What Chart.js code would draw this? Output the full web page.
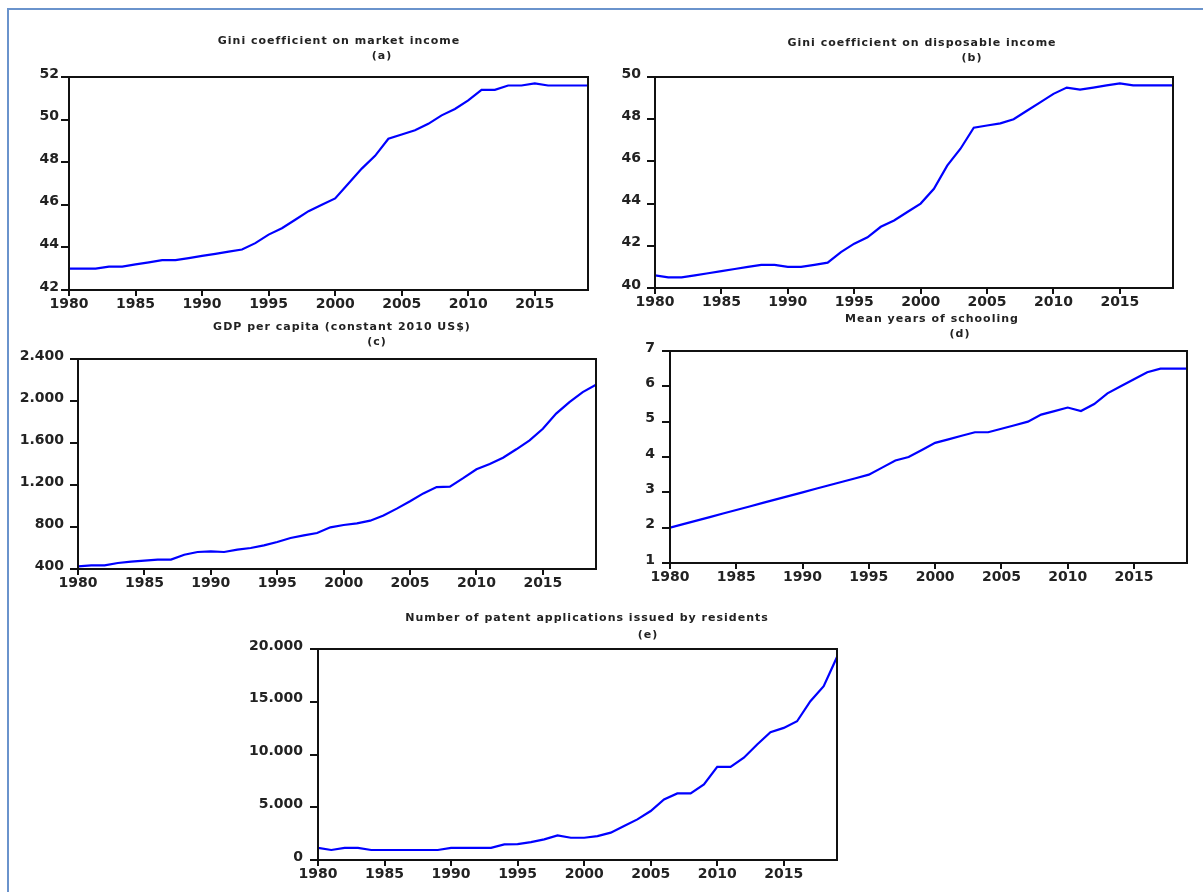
<!DOCTYPE html>
<html>
<head>
<meta charset="utf-8">
<script src="https://cdn.jsdelivr.net/npm/chart.js@4"></script>
<style>
  html, body { margin: 0; padding: 0; background: #fff; }
  body { width: 1203px; height: 892px; position: relative; overflow: hidden; }
  .frame-top { position: absolute; left: 7px; top: 8px; width: 1196px; height: 2px; background: #6a93cc; }
  .frame-left { position: absolute; left: 7px; top: 8px; width: 2px; height: 884px; background: #6a93cc; }
  canvas { position: absolute; }
</style>
</head>
<body>
<div class="frame-top"></div>
<div class="frame-left"></div>
<canvas id="chartA"></canvas>
<canvas id="chartB"></canvas>
<canvas id="chartC"></canvas>
<canvas id="chartD"></canvas>
<canvas id="chartE"></canvas>

<script>
// Yearly observations, 1980 - 2019.
const years = [
  1980, 1981, 1982, 1983, 1984, 1985, 1986, 1987, 1988, 1989,
  1990, 1991, 1992, 1993, 1994, 1995, 1996, 1997, 1998, 1999,
  2000, 2001, 2002, 2003, 2004, 2005, 2006, 2007, 2008, 2009,
  2010, 2011, 2012, 2013, 2014, 2015, 2016, 2017, 2018, 2019
];

const giniMarket = [
  43.0, 43.0, 43.0, 43.1, 43.1, 43.2, 43.3, 43.4, 43.4, 43.5,
  43.6, 43.7, 43.8, 43.9, 44.2, 44.6, 44.9, 45.3, 45.7, 46.0,
  46.3, 47.0, 47.7, 48.3, 49.1, 49.3, 49.5, 49.8, 50.2, 50.5,
  50.9, 51.4, 51.4, 51.6, 51.6, 51.7, 51.6, 51.6, 51.6, 51.6
];

const giniDisposable = [
  40.6, 40.5, 40.5, 40.6, 40.7, 40.8, 40.9, 41.0, 41.1, 41.1,
  41.0, 41.0, 41.1, 41.2, 41.7, 42.1, 42.4, 42.9, 43.2, 43.6,
  44.0, 44.7, 45.8, 46.6, 47.6, 47.7, 47.8, 48.0, 48.4, 48.8,
  49.2, 49.5, 49.4, 49.5, 49.6, 49.7, 49.6, 49.6, 49.6, 49.6
];

const gdpPerCapita = [
  425, 435, 435, 457, 470, 480, 489, 489, 536, 562,
  568, 562, 584, 600, 625, 657, 695, 720, 743, 797,
  819, 835, 860, 910, 975, 1045, 1120, 1180, 1185, 1265,
  1350, 1400, 1460, 1540, 1625, 1735, 1880, 1990, 2085, 2155
];

const schooling = [
  2.0, 2.1, 2.2, 2.3, 2.4, 2.5, 2.6, 2.7, 2.8, 2.9,
  3.0, 3.1, 3.2, 3.3, 3.4, 3.5, 3.7, 3.9, 4.0, 4.2,
  4.4, 4.5, 4.6, 4.7, 4.7, 4.8, 4.9, 5.0, 5.2, 5.3,
  5.4, 5.3, 5.5, 5.8, 6.0, 6.2, 6.4, 6.5, 6.5, 6.5
];

const patents = [
  1150, 950, 1150, 1150, 950, 950, 950, 950, 950, 950,
  1150, 1150, 1150, 1150, 1480, 1500, 1700, 1950, 2330, 2110,
  2110, 2270, 2590, 3220, 3850, 4640, 5740, 6310, 6310, 7160,
  8830, 8830, 9690, 10950, 12110, 12520, 13150, 15050, 16470, 19240
];

const panelTitles = [
  "Gini coefficient on market income",
  "Gini coefficient on disposable income",
  "GDP per capita (constant 2010 US$)",
  "Mean years of schooling",
  "Number of patent applications issued by residents"
];
const panelLetters = ["(a)", "(b)", "(c)", "(d)", "(e)"];

// Thousands with a dot, as in the source ("2.400", "20.000").
function dotThousands(v) {
  return String(v).replace(/\B(?=(\d{3})+(?!\d))/g, ".");
}

// Draws the title lines and the closed box around the plot area.
const panelDecor = {
  id: "panelDecor",
  afterDraw(chart, args, opts) {
    const ctx = chart.ctx;
    const a = chart.chartArea;
    ctx.save();
    ctx.strokeStyle = "#111";
    ctx.lineWidth = 2;
    ctx.strokeRect(a.left, a.top, a.right - a.left, a.bottom - a.top);

    ctx.fillStyle = "#222";
    ctx.font = "bold 11px 'DejaVu Sans'";
    ctx.textAlign = "center";
    ctx.textBaseline = "middle";
    if ("letterSpacing" in ctx) ctx.letterSpacing = "1px";
    ctx.fillText(opts.title, opts.titleX, opts.titleY);
    ctx.fillText(opts.letter, opts.letterX, opts.letterY);
    ctx.restore();
  }
};

function makePanel(id, idx, values, yMin, yMax, yStep, box, titlePos, tickPad, fmt) {
  const canvas = document.getElementById(id);
  const left = box[0] - 75;
  const top = titlePos[1] - 14;
  const width = box[2] + 8 - left;
  const height = box[3] + 32 - top;
  canvas.style.left = left + "px";
  canvas.style.top = top + "px";
  canvas.style.width = width + "px";
  canvas.style.height = height + "px";
  canvas.width = width;
  canvas.height = height;

  new Chart(canvas, {
    type: "line",
    data: {
      datasets: [{
        data: years.map((yr, i) => ({ x: yr, y: values[i] })),
        borderColor: "#0000ff",
        borderWidth: 2.2,
        pointRadius: 0,
        tension: 0,
        fill: false
      }]
    },
    options: {
      responsive: false,
      animation: false,
      events: [],
      layout: { padding: { top: box[1] - top, right: 8, left: 0, bottom: 0 } },
      plugins: {
        legend: { display: false },
        tooltip: { enabled: false },
        panelDecor: {
          title: panelTitles[idx],
          letter: panelLetters[idx],
          titleX: titlePos[0] - left,
          titleY: titlePos[1] - top,
          letterX: titlePos[2] - left,
          letterY: titlePos[3] - top
        }
      },
      scales: {
        x: {
          type: "linear",
          min: 1980,
          max: 2019,
          // only every fifth year gets a tick, no extra tick at 2019
          afterBuildTicks(scale) { scale.ticks = scale.ticks.filter((t) => t.value % 5 === 0); },
          afterFit(scale) { scale.height = 32; },
          border: { display: false },
          grid: { drawOnChartArea: false, drawTicks: true, tickLength: 6, color: "#111", lineWidth: 2 },
          ticks: {
            stepSize: 5,
            padding: 0,
            maxRotation: 0,
            autoSkip: false,
            color: "#222",
            font: { family: "DejaVu Sans", size: 14, weight: "bold" },
            callback: (v) => String(v)
          }
        },
        y: {
          min: yMin,
          max: yMax,
          afterFit(scale) { scale.width = 75; },
          border: { display: false },
          grid: { drawOnChartArea: false, drawTicks: true, tickLength: 8, color: "#111", lineWidth: 2 },
          ticks: {
            stepSize: yStep,
            padding: tickPad,
            labelOffset: -3,
            color: "#222",
            font: { family: "DejaVu Sans", size: 14, weight: "bold" },
            callback: fmt
          }
        }
      }
    },
    plugins: [panelDecor]
  });
}

document.addEventListener("DOMContentLoaded", function () {
  const plain = (v) => String(v);
  // box = [left, top, right, bottom] of the plot area; titlePos = [titleX, titleY, letterX, letterY]
  makePanel("chartA", 0, giniMarket, 42, 52, 2, [69, 77, 588, 290], [339, 41, 382, 56], 2, plain);
  makePanel("chartB", 1, giniDisposable, 40, 50, 2, [655, 77, 1173, 288], [922, 43, 972, 58], 6, plain);
  makePanel("chartC", 2, gdpPerCapita, 400, 2400, 400, [78, 359, 596, 569], [342, 327, 377, 342], 6, dotThousands);
  makePanel("chartD", 3, schooling, 1, 7, 1, [670, 351, 1187, 563], [932, 319, 960, 334], 7, plain);
  makePanel("chartE", 4, patents, 0, 20000, 5000, [318, 649, 837, 860], [587, 618, 648, 635], 7, dotThousands);
});
</script>
</body>
</html>
